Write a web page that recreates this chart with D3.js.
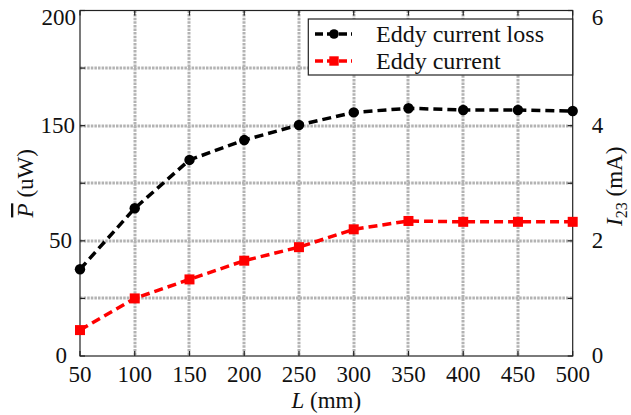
<!DOCTYPE html>
<html><head><meta charset="utf-8">
<script src="https://cdn.jsdelivr.net/npm/d3@7"></script>
<style>body{margin:0;background:#fff;} svg text{font-family:'Liberation Serif','DejaVu Serif','Times New Roman',Times,serif;}</style>
</head><body><svg id="c" width="631" height="415" font-family="Liberation Serif, DejaVu Serif, serif"></svg>
<script>
const lengths = [50,100,150,200,250,300,350,400,450,500];
const eddyLoss = [50.2,85.5,113.5,125,133.7,141,143.4,142.4,142.4,141.8];
const eddyCurrent = [0.45,1.0,1.33,1.655,1.89,2.2,2.345,2.33,2.33,2.33];
const xTicks = [50,100,150,200,250,300,350,400,450,500];
const leftGrid = [0,200/6,400/6,200/2,800/6,1000/6,200];
const leftTickValues = [0,400/6,800/6,200];
const leftTickLabels = ["0","50","150","200"];
const rightTicks = [0,2,4,6];
const rightGrid = [0,1,2,3,4,5,6];
const seriesNames = ["Eddy current loss","Eddy current"];

const svg = d3.select("#c");
const m = {l:80, r:572.7, t:10.5, b:356};
const x = d3.scaleLinear().domain([50,500]).range([m.l,m.r]);
const yL = d3.scaleLinear().domain([0,200]).range([m.b,m.t]);
const yR = d3.scaleLinear().domain([0,6]).range([m.b,m.t]);
const fs = 23;
const leftLabelPad = [13,8,5,4];

// grid
const grid = svg.append("g").attr("stroke","#b3b3b3").attr("stroke-width",3).attr("stroke-dasharray","2.5,1.1");
grid.selectAll("line.v").data(xTicks.slice(1,-1)).join("line")
  .attr("x1",d=>Math.round(x(d))).attr("x2",d=>Math.round(x(d))).attr("y1",m.t).attr("y2",m.b);
grid.selectAll("line.h").data(leftGrid.slice(1,-1)).join("line").attr("class","h")
  .attr("x1",m.l).attr("x2",m.r).attr("y1",d=>Math.round(yL(d))).attr("y2",d=>Math.round(yL(d)));

// axes ticks
const ax = svg.append("g").attr("stroke","#222").attr("stroke-width",1.2);
ax.append("rect").attr("x",m.l).attr("y",m.t).attr("width",m.r-m.l).attr("height",m.b-m.t).attr("fill","none");
const tl = 5;
xTicks.forEach(d=>{
  ax.append("line").attr("x1",x(d)).attr("x2",x(d)).attr("y1",m.b).attr("y2",m.b-tl);
  ax.append("line").attr("x1",x(d)).attr("x2",x(d)).attr("y1",m.t).attr("y2",m.t+tl);
});
leftGrid.forEach(d=>{
  ax.append("line").attr("x1",m.l).attr("x2",m.l+tl).attr("y1",yL(d)).attr("y2",yL(d));
});
rightGrid.forEach(d=>{
  ax.append("line").attr("x1",m.r).attr("x2",m.r-tl).attr("y1",yR(d)).attr("y2",yR(d));
});

// tick labels
const lab = svg.append("g").attr("font-size",fs).attr("fill","#111");
lab.selectAll("text.x").data(xTicks).join("text")
  .attr("x",d=>x(d)).attr("y",m.b+26).attr("text-anchor","middle").text(d=>d);
lab.selectAll("text.l").data(leftTickValues).join("text").attr("class","l")
  .attr("x",(d,i)=>m.l-leftLabelPad[i]).attr("y",d=>Math.max(yL(d),18)).attr("dy","0.3em").attr("text-anchor","end")
  .text((d,i)=>leftTickLabels[i]);
lab.selectAll("text.r").data(rightTicks).join("text").attr("class","r")
  .attr("x",m.r+19).attr("y",d=>Math.max(yR(d),18)).attr("dy","0.3em").attr("text-anchor","start")
  .text(d=>d);

// axis titles
const xt = lab.append("text").attr("x",(m.l+m.r)/2).attr("y",408).attr("text-anchor","middle");
xt.append("tspan").attr("font-style","italic").text("L");
xt.append("tspan").text(" (mm)");
const lt = lab.append("text").attr("transform",`translate(33,${(m.t+m.b)/2}) rotate(-90)`).attr("text-anchor","middle");
lt.append("tspan").attr("font-style","italic").attr("text-decoration","overline").text("P");
lt.append("tspan").text(" (uW)");
const rt = lab.append("text").attr("transform",`translate(622,${(m.t+m.b)/2+3}) rotate(-90)`).attr("text-anchor","middle");
rt.append("tspan").attr("font-style","italic").text("I");
rt.append("tspan").attr("font-size",16).attr("dy",5).text("23");
rt.append("tspan").attr("dy",-5).text(" (mA)");

// series
const dash = "9,5";
const lineL = d3.line().x((d,i)=>x(lengths[i])).y(d=>yL(d));
const lineR = d3.line().x((d,i)=>x(lengths[i])).y(d=>yR(d));
svg.append("path").datum(eddyLoss).attr("d",lineL).attr("fill","none").attr("stroke","#000").attr("stroke-width",3.5).attr("stroke-dasharray",dash);
svg.append("g").selectAll("circle").data(eddyLoss).join("circle")
  .attr("cx",(d,i)=>x(lengths[i])).attr("cy",d=>yL(d)).attr("r",5.2).attr("fill","#000");
svg.append("path").datum(eddyCurrent).attr("d",lineR).attr("fill","none").attr("stroke","#ff0000").attr("stroke-width",3.5).attr("stroke-dasharray",dash);
const sq = 10;
svg.append("g").selectAll("rect").data(eddyCurrent).join("rect")
  .attr("x",(d,i)=>x(lengths[i])-sq/2).attr("y",d=>yR(d)-sq/2).attr("width",sq).attr("height",sq).attr("fill","#ff0000");

// legend
const lg = svg.append("g");
lg.append("rect").attr("x",308.3).attr("y",19).attr("width",m.r-308.3).attr("height",56).attr("fill","#fff").attr("stroke","#222").attr("stroke-width",1.2);
const rows = [{c:"#000",t:"circle",y:34},{c:"#ff0000",t:"square",y:61}];
rows.forEach((r,i)=>{
  lg.append("line").attr("x1",315).attr("x2",352).attr("y1",r.y).attr("y2",r.y).attr("stroke",r.c).attr("stroke-width",3.5).attr("stroke-dasharray","8,4");
  if(r.t==="circle") lg.append("circle").attr("cx",334).attr("cy",r.y).attr("r",4.8).attr("fill",r.c);
  else lg.append("rect").attr("x",334-4.7).attr("y",r.y-4.7).attr("width",9.4).attr("height",9.4).attr("fill",r.c);
  lg.append("text").attr("x",376).attr("y",r.y).attr("dy","0.32em").attr("font-size",24).attr("fill","#111").text(seriesNames[i]);
});
</script></body></html>
